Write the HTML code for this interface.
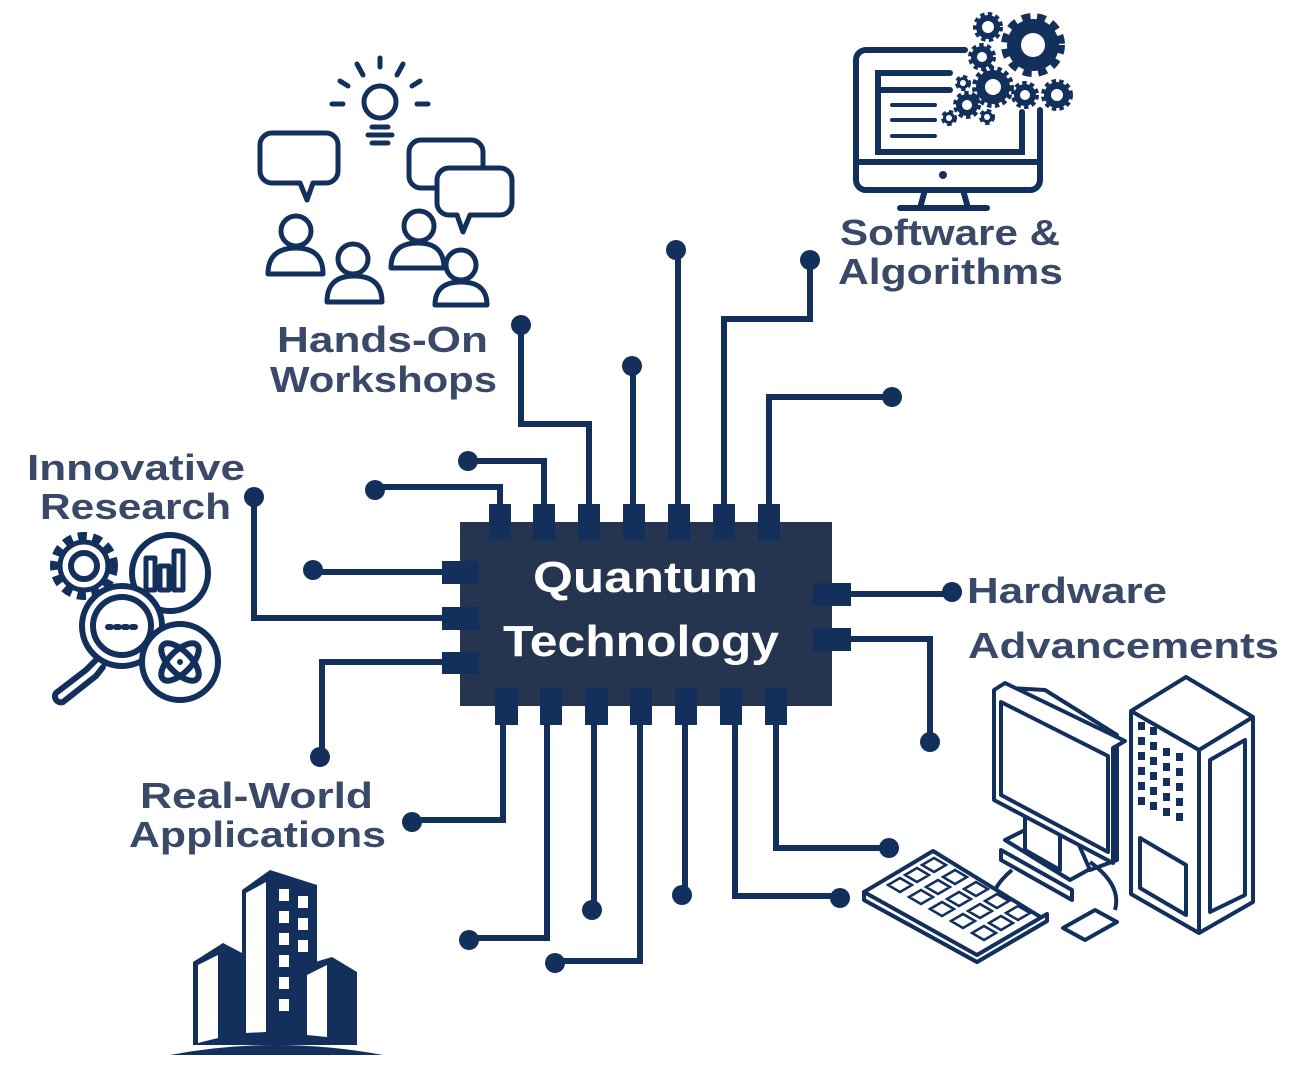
<!DOCTYPE html>
<html><head><meta charset="utf-8"><style>
html,body{margin:0;padding:0;background:#fff;}
svg{display:block;}
.lbl{font-family:"Liberation Sans",sans-serif;font-weight:bold;fill:#3a4968;font-size:36px;}
.ct{font-family:"Liberation Sans",sans-serif;font-weight:bold;fill:#fff;font-size:44px;}
</style></head><body>
<svg width="1298" height="1072" viewBox="0 0 1298 1072" xmlns="http://www.w3.org/2000/svg">
<g fill="none" stroke="#13305d" stroke-width="6">
<polyline points="500,505 500,487 375,487"/>
<polyline points="544,505 544,461 468,461"/>
<polyline points="589,505 589,424 521,424 521,325"/>
<polyline points="633,505 633,366"/>
<polyline points="678,505 678,250"/>
<polyline points="724,505 724,319 810,319 810,260"/>
<polyline points="769,505 769,397 892,397"/>
<polyline points="443,572 313,572"/>
<polyline points="443,618 254,618 254,497"/>
<polyline points="443,662 322,662 322,757"/>
<polyline points="850,594 952,594"/>
<polyline points="850,639 930,639 930,742"/>
<polyline points="503,724 503,820 412,820"/>
<polyline points="547,724 547,938 469,938"/>
<polyline points="594,724 594,910"/>
<polyline points="640,724 640,961 555,961"/>
<polyline points="685,724 685,895"/>
<polyline points="735,724 735,896 840,896"/>
<polyline points="776,724 776,848 889,848"/>
</g>
<g fill="#13305d">
<circle cx="375" cy="490" r="10"/><circle cx="468" cy="461" r="10"/><circle cx="521" cy="325" r="10"/>
<circle cx="632" cy="366" r="10"/><circle cx="676" cy="250" r="10"/><circle cx="810" cy="260" r="10"/>
<circle cx="892" cy="397" r="10"/><circle cx="313" cy="570" r="10"/><circle cx="254" cy="497" r="10"/>
<circle cx="320" cy="757" r="10"/><circle cx="952" cy="592" r="10"/><circle cx="930" cy="742" r="10"/>
<circle cx="412" cy="822" r="10"/><circle cx="469" cy="940" r="10"/><circle cx="592" cy="910" r="10"/>
<circle cx="555" cy="963" r="10"/><circle cx="682" cy="895" r="10"/><circle cx="840" cy="898" r="10"/>
<circle cx="889" cy="848" r="10"/>
</g>
<rect x="460" y="522" width="372" height="184" fill="#253550"/>
<g fill="#13305d">
<rect x="489" y="504" width="22" height="37"/><rect x="533" y="504" width="22" height="37"/><rect x="578" y="504" width="22" height="37"/>
<rect x="623" y="504" width="22" height="37"/><rect x="668" y="504" width="22" height="37"/><rect x="713" y="504" width="22" height="37"/>
<rect x="758" y="504" width="22" height="37"/>
<rect x="495" y="688" width="23" height="37"/><rect x="540" y="688" width="22" height="37"/><rect x="585" y="688" width="23" height="37"/>
<rect x="630" y="688" width="22" height="37"/><rect x="675" y="688" width="22" height="37"/><rect x="720" y="688" width="22" height="37"/>
<rect x="765" y="688" width="22" height="37"/>
<rect x="442" y="561" width="37" height="23"/><rect x="442" y="607" width="37" height="23"/><rect x="442" y="652" width="37" height="22"/>
<rect x="813" y="583" width="38" height="23"/><rect x="813" y="628" width="38" height="23"/>
</g>
<text class="ct" x="533" y="592" textLength="225" lengthAdjust="spacingAndGlyphs">Quantum</text>
<text class="ct" x="503" y="656" textLength="276" lengthAdjust="spacingAndGlyphs">Technology</text>
<text class="lbl" x="840" y="245" textLength="220" lengthAdjust="spacingAndGlyphs">Software &amp;</text>
<text class="lbl" x="838" y="284" textLength="225" lengthAdjust="spacingAndGlyphs">Algorithms</text>
<text class="lbl" x="277" y="352" textLength="211" lengthAdjust="spacingAndGlyphs">Hands-On</text>
<text class="lbl" x="270" y="392" textLength="227" lengthAdjust="spacingAndGlyphs">Workshops</text>
<text class="lbl" x="27" y="480" textLength="218" lengthAdjust="spacingAndGlyphs">Innovative</text>
<text class="lbl" x="40" y="519" textLength="191" lengthAdjust="spacingAndGlyphs">Research</text>
<text class="lbl" x="967" y="603" textLength="200" lengthAdjust="spacingAndGlyphs">Hardware</text>
<text class="lbl" x="968" y="658" textLength="311" lengthAdjust="spacingAndGlyphs">Advancements</text>
<text class="lbl" x="140" y="808" textLength="233" lengthAdjust="spacingAndGlyphs">Real-World</text>
<text class="lbl" x="129" y="847" textLength="257" lengthAdjust="spacingAndGlyphs">Applications</text>

<g fill="none" stroke="#13305d" stroke-width="6" stroke-linecap="round">
<path d="M965,50 H866 a10,10 0 0 0 -10,10 V180 a10,10 0 0 0 10,10 H1030 a10,10 0 0 0 10,-10 V110"/>
<line x1="856" y1="162" x2="1040" y2="162"/>
<path d="M950,73 H878 V152 H1022 V112"/>
<line x1="878" y1="90" x2="950" y2="90"/>
<line x1="892" y1="105" x2="935" y2="105" stroke-width="4"/>
<line x1="892" y1="120" x2="935" y2="120" stroke-width="4"/>
<line x1="892" y1="136" x2="935" y2="136" stroke-width="4"/>
<line x1="925" y1="190" x2="920" y2="208"/><line x1="963" y1="190" x2="968" y2="208"/>
<line x1="900" y1="208" x2="987" y2="208"/>
</g>
<circle cx="943" cy="175" r="4" fill="#13305d"/>
<g fill="#13305d" stroke="#13305d" stroke-dasharray="4 3">
<circle cx="1033" cy="45" r="26" stroke-width="12" stroke-dasharray="8 6"/>
<circle cx="988" cy="27" r="12" stroke-width="6"/>
<circle cx="982" cy="57" r="11" stroke-width="6"/>
<circle cx="993" cy="87" r="17" stroke-width="8"/>
<circle cx="1025" cy="95" r="11" stroke-width="6"/>
<circle cx="1057" cy="95" r="13" stroke-width="6"/>
<circle cx="967" cy="105" r="11" stroke-width="6"/>
<circle cx="963" cy="83" r="6" stroke-width="4"/>
<circle cx="987" cy="117" r="6" stroke-width="4"/>
<circle cx="949" cy="118" r="6" stroke-width="4"/>
</g>
<g fill="#fff">
<circle cx="1033" cy="45" r="12"/><circle cx="988" cy="27" r="6"/><circle cx="982" cy="57" r="5"/>
<circle cx="993" cy="87" r="8"/><circle cx="1025" cy="95" r="5"/><circle cx="1057" cy="95" r="6"/>
<circle cx="967" cy="105" r="5"/><circle cx="963" cy="83" r="3"/><circle cx="987" cy="117" r="3"/><circle cx="949" cy="118" r="3"/>
</g>

<g fill="none" stroke="#13305d" stroke-width="5" stroke-linecap="round" stroke-linejoin="round">
<circle cx="380" cy="102" r="16"/>
<line x1="372" y1="127" x2="388" y2="127"/><line x1="368" y1="135" x2="392" y2="135"/><line x1="372" y1="143" x2="388" y2="143"/>
<line x1="380" y1="58" x2="380" y2="67"/><line x1="357" y1="64" x2="363" y2="75"/><line x1="403" y1="64" x2="397" y2="75"/>
<line x1="340" y1="81" x2="348" y2="86"/><line x1="420" y1="81" x2="412" y2="86"/>
<line x1="332" y1="104" x2="343" y2="104"/><line x1="417" y1="104" x2="428" y2="104"/>
<path d="M272,133 H326 a12,12 0 0 1 12,12 V171 a12,12 0 0 1 -12,12 H313 L307,200 L300,183 H272 a12,12 0 0 1 -12,-12 V145 a12,12 0 0 1 12,-12 Z"/>
<rect x="409" y="140" width="74" height="48" rx="12"/>
<path fill="#fff" d="M449,168 H500 a12,12 0 0 1 12,12 V203 a12,12 0 0 1 -12,12 H470 L463,232 L457,215 H449 a12,12 0 0 1 -12,-12 V180 a12,12 0 0 1 12,-12 Z"/>
<circle cx="296" cy="231" r="15"/><path d="M268,274 Q268,248 296,248 Q323,248 323,274 Z"/>
<circle cx="353" cy="259" r="15"/><path d="M327,302 Q327,276 354,276 Q382,276 382,302 Z"/>
<circle cx="419" cy="226" r="15"/><path d="M391,268 Q391,243 418,243 Q444,243 444,268 Z"/>
<path fill="#fff" d="M435,305 Q435,282 461,282 Q487,282 487,305 Z"/><circle cx="461" cy="265" r="15" fill="#fff"/>
</g>

<g fill="none" stroke="#13305d" stroke-width="6" stroke-linecap="round" stroke-linejoin="round">
<circle cx="84" cy="566" r="30" stroke-width="8" stroke-dasharray="9 6" stroke-linecap="butt"/>
<circle cx="84" cy="566" r="24" stroke-width="5"/>
<circle cx="84" cy="566" r="13"/>
<circle cx="170" cy="573" r="38"/>
<rect x="146" y="558" width="9" height="32" stroke-width="5"/>
<rect x="160" y="566" width="9" height="24" stroke-width="5"/>
<rect x="174" y="551" width="9" height="39" stroke-width="5"/>
<circle cx="122" cy="626" r="40" fill="#fff"/>
<circle cx="122" cy="626" r="29"/>
<line x1="108" y1="627" x2="138" y2="627" stroke-dasharray="3 5"/>
<path d="M96,660 L86,670 L56,693 a6,6 0 0 0 7,9 L96,676 L103,667"/>
<circle cx="180" cy="662" r="38" fill="#fff"/>
<ellipse cx="180" cy="662" rx="24" ry="11" transform="rotate(45 180 662)"/>
<ellipse cx="180" cy="662" rx="24" ry="11" transform="rotate(-45 180 662)"/>
</g>
<circle cx="180" cy="662" r="3" fill="#13305d"/>

<g fill="#13305d">
<path d="M170,1055 Q275,1035 383,1055 Z"/>
<polygon points="242,890 270,870 317,885 317,1045 242,1045"/>
<polygon points="193,962 223,943 242,953 242,1045 193,1045"/>
<polygon points="295,968 332,957 357,972 357,1045 295,1045"/>
</g>
<g fill="#fff">
<polygon points="246,893 266,882 266,1032 246,1033"/>
<polygon points="198,965 218,955 218,1038 198,1043"/>
<polygon points="307,975 327,965 327,1037 307,1035"/>
<rect x="279" y="889" width="10" height="12"/><rect x="298" y="896" width="10" height="12"/>
<rect x="279" y="911" width="10" height="12"/><rect x="298" y="918" width="10" height="12"/>
<rect x="279" y="933" width="10" height="12"/><rect x="298" y="940" width="10" height="12"/>
<rect x="279" y="955" width="10" height="12"/>
<rect x="279" y="977" width="10" height="12"/>
<rect x="279" y="999" width="10" height="12"/>
</g>

<g fill="#fff" stroke="#13305d" stroke-width="4" stroke-linejoin="round">
<polygon points="1131,711 1186,677 1253,717 1253,902 1199,933 1131,894"/>
<polyline points="1131,711 1199,750 1253,717" fill="none"/>
<line x1="1199" y1="750" x2="1199" y2="933"/>
<polygon points="1210,760 1245,740 1245,895 1210,912"/>
<polygon points="1140,838 1186,865 1186,915 1140,888"/>
<polygon points="1005,840 1045,820 1110,858 1070,880" />
<polygon points="1001,850 1072,890 1072,900 1001,860"/>
<polygon points="1025,810 1060,830 1060,870 1025,850"/>
<polygon points="1010,688 1045,690 1117,735 1117,860 1090,870"/>
<polygon points="994,690 1005,683 1125,741 1113,748 1113,863 994,800"/>
<polygon points="1001,702 1108,756 1108,852 1001,795"/>
<polygon points="864,892 933,851 1047,921 977,962 864,900"/>
<polygon points="864,892 977,955 1047,914 1047,921 977,962 864,900"/>
<polygon points="1063,928 1095,910 1117,922 1085,940"/>
</g>
<path d="M1012,870 Q1000,880 995,890 M1090,862 Q1122,885 1115,910" fill="none" stroke="#13305d" stroke-width="4"/>
<g fill="#13305d" transform="translate(1138,722)">
<rect x="0" y="0" width="7" height="8"/><rect x="12" y="5" width="7" height="8"/>
<rect x="0" y="15" width="7" height="8"/><rect x="12" y="20" width="7" height="8"/><rect x="25" y="26" width="7" height="8"/><rect x="38" y="31" width="7" height="8"/>
<rect x="0" y="30" width="7" height="8"/><rect x="12" y="35" width="7" height="8"/><rect x="25" y="41" width="7" height="8"/><rect x="38" y="46" width="7" height="8"/>
<rect x="0" y="45" width="7" height="8"/><rect x="12" y="50" width="7" height="8"/><rect x="25" y="56" width="7" height="8"/><rect x="38" y="61" width="7" height="8"/>
<rect x="0" y="60" width="7" height="8"/><rect x="12" y="65" width="7" height="8"/><rect x="25" y="71" width="7" height="8"/><rect x="38" y="76" width="7" height="8"/>
<rect x="0" y="75" width="7" height="8"/><rect x="12" y="80" width="7" height="8"/><rect x="25" y="86" width="7" height="8"/><rect x="38" y="91" width="7" height="8"/>
</g>
<g fill="none" stroke="#13305d" stroke-width="2.5">
<path d="M888,885 l12,-7 l12,7 l-12,7 z M905,875 l12,-7 l12,7 l-12,7 z M922,865 l12,-7 l12,7 l-12,7 z M909,897 l12,-7 l12,7 l-12,7 z M926,887 l12,-7 l12,7 l-12,7 z M943,877 l12,-7 l12,7 l-12,7 z M930,909 l12,-7 l12,7 l-12,7 z M947,899 l12,-7 l12,7 l-12,7 z M964,889 l12,-7 l12,7 l-12,7 z M951,921 l12,-7 l12,7 l-12,7 z M968,911 l12,-7 l12,7 l-12,7 z M985,901 l12,-7 l12,7 l-12,7 z M972,933 l12,-7 l12,7 l-12,7 z M989,923 l12,-7 l12,7 l-12,7 z M1006,913 l12,-7 l12,7 l-12,7 z"/>
</g>
</svg>
</body></html>
